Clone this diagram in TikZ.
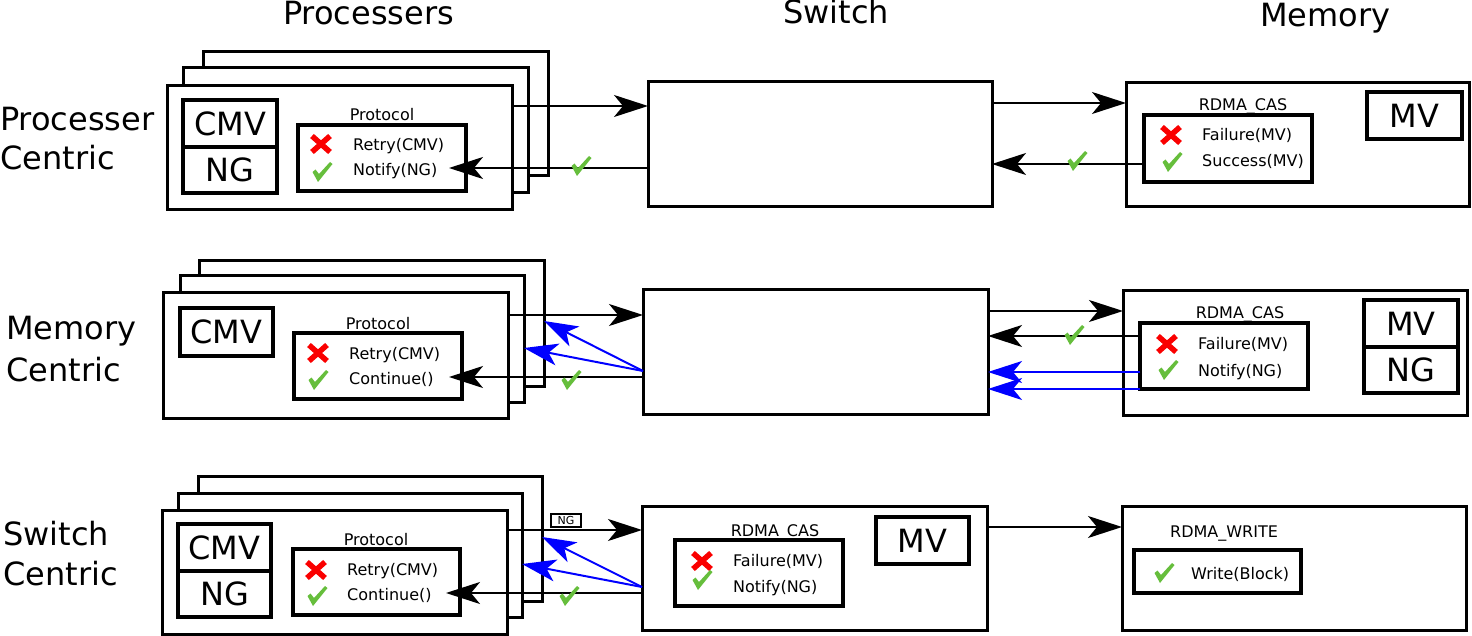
\documentclass[tikz,border=0pt]{standalone}
\usepackage{fontspec}
\setmainfont{DejaVu Sans}
\usetikzlibrary{arrows.meta}
\definecolor{okgreen}{RGB}{102,190,60}
\definecolor{badred}{RGB}{250,0,0}
\tikzset{
  frame/.style={draw, line width=3pt, fill=white, inner sep=0pt, outer sep=0pt, anchor=north west},
  inbox/.style={draw, line width=4.5pt, fill=white, inner sep=0pt, outer sep=0pt, anchor=north west},
  valbox/.style={draw, line width=4pt, fill=white, inner sep=0pt, outer sep=0pt, anchor=north west, font=\fontsize{32}{38}\selectfont},
  bigtxt/.style={font=\fontsize{32}{38}\selectfont, inner sep=0pt, anchor=base west},
  lbl/.style={font=\fontsize{16}{18}\selectfont, inner sep=0pt, anchor=base west},
  ttl/.style={font=\fontsize{16}{18}\selectfont, inner sep=0pt, anchor=base},
  conn/.style={line width=2pt, -{Stealth[length=34pt,width=22pt,inset=9pt]}},
  bconn/.style={conn, draw=blue, fill=blue},
  chk/.pic={\fill[okgreen] (-9.5,0) -- (-6.5,-2.5) -- (-3,2) -- (8,-10) -- (10.5,-8) -- (-4,10) -- cycle;},
  xmk/.pic={\draw[badred, line width=5.5pt] (-9,-8) -- (9,8) (-9,8) -- (9,-8);},
}
\begin{document}
\begin{tikzpicture}[x=1pt,y=-1pt]
\useasboundingbox (0,0) rectangle (1472,636);

% titles
\node[bigtxt] (tproc) at (283,25) {Processers};
\node[bigtxt] (tsw) at (783,24) {Switch};
\node[bigtxt] (tmem) at (1260,27) {Memory};

% row labels
\node[bigtxt] (r1a) at (0,131) {Processer};
\node[bigtxt] (r1b) at (0,170) {Centric};
\node[bigtxt] (r2a) at (6,339) {Memory};
\node[bigtxt] (r2b) at (6,381) {Centric};
\node[bigtxt] (r3a) at (3,545) {Switch};
\node[bigtxt] (r3b) at (3,585) {Centric};

% ================= ROW 1 =================
\node[frame, minimum width=345pt, minimum height=124pt] (b1back) at (203,52) {};
\node[frame, minimum width=345pt, minimum height=125pt] (b1mid) at (183,68) {};
\node[frame, minimum width=345pt, minimum height=124pt] (b1front) at (167,86) {};
\node[valbox, minimum width=94pt, minimum height=47pt] (cmv1) at (183,100) {CMV};
\node[valbox, minimum width=94pt, minimum height=46pt] (ng1) at (183,147) {NG};
\node[ttl] (pl1) at (382,121) {Protocol};
\node[inbox, minimum width=168pt, minimum height=66pt] (p1) at (298,125) {};
\pic at (321,144) {xmk};
\pic at (322,172) {chk};
\node[lbl] (p1a) at (353,151) {Retry(CMV)};
\node[lbl] (p1b) at (353,176) {Notify(NG)};

\node[frame, minimum width=344pt, minimum height=125pt] (sw1) at (648,82) {};

\node[frame, minimum width=343pt, minimum height=124pt] (mem1) at (1126,83) {};
\node[ttl] (cas1) at (1243,111) {RDMA\_CAS};
\node[inbox, minimum width=168pt, minimum height=67pt] (m1in) at (1144,115) {};
\pic at (1171,135) {xmk};
\pic at (1172,162) {chk};
\node[lbl] (m1a) at (1202,141) {Failure(MV)};
\node[lbl] (m1b) at (1202,167) {Success(MV)};
\node[valbox, minimum width=95pt, minimum height=47pt] (mv1) at (1367,92) {MV};

\draw[conn] (b1front.east |- 0,106) -- (sw1.west |- 0,106);
\draw[conn, shorten >=-17pt] (sw1.west |- 0,168) -- (p1.east |- 0,168);
\draw[conn] (sw1.east |- 0,103) -- (mem1.west |- 0,103);
\draw[conn] (m1in.west |- 0,164) -- (sw1.east |- 0,164);
\pic at (581,166) {chk};
\pic at (1077,161) {chk};

% ================= ROW 2 =================
\node[frame, minimum width=345pt, minimum height=125pt] (b2back) at (199,261) {};
\node[frame, minimum width=344pt, minimum height=126pt] (b2mid) at (180,276) {};
\node[frame, minimum width=345pt, minimum height=125pt] (b2front) at (163,293) {};
\node[valbox, minimum width=93pt, minimum height=48pt] (cmv2) at (180,308) {CMV};
\node[ttl] (pl2) at (378,329) {Protocol};
\node[inbox, minimum width=168pt, minimum height=66pt] (p2) at (294,333) {};
\pic at (318,353) {xmk};
\pic at (318,380) {chk};
\node[lbl] (p2a) at (349,359) {Retry(CMV)};
\node[lbl] (p2b) at (349,384) {Continue()};

\node[frame, minimum width=345pt, minimum height=124pt] (sw2) at (643,290) {};

\node[frame, minimum width=344pt, minimum height=124pt] (mem2) at (1123,291) {};
\node[ttl] (cas2) at (1240,319) {RDMA\_CAS};
\node[inbox, minimum width=168pt, minimum height=66pt] (m2in) at (1140,323) {};
\pic at (1167,344) {xmk};
\pic at (1168,370) {chk};
\node[lbl] (m2a) at (1198,349) {Failure(MV)};
\node[lbl] (m2b) at (1198,376) {Notify(NG)};
\node[valbox, minimum width=94pt, minimum height=47pt] (mv2) at (1364,300) {MV};
\node[valbox, minimum width=94pt, minimum height=46pt] (ng2) at (1364,347) {NG};

\draw[conn] (b2front.east |- 0,315) -- (sw2.west |- 0,315);
\draw[conn, shorten >=-13pt] (sw2.west |- 0,377) -- (p2.east |- 0,377);
\draw[bconn] (sw2.west |- 0,371) -- (b2back.east |- 0,321);
\draw[bconn] (sw2.west |- 0,371) -- (b2mid.east |- 0,348);
\draw[conn] (sw2.east |- 0,311) -- (mem2.west |- 0,311);
\draw[conn] (m2in.west |- 0,336) -- (sw2.east |- 0,336);
\draw[bconn] (m2in.west |- 0,372) -- (sw2.east |- 0,372);
\draw[bconn] (m2in.west |- 0,389) -- (sw2.east |- 0,389);
\pic at (571,380) {chk};
\pic at (1074,335) {chk};

% ================= ROW 3 =================
\node[frame, minimum width=344pt, minimum height=125pt] (b3back) at (198,476) {};
\node[frame, minimum width=344pt, minimum height=124pt] (b3mid) at (178,493) {};
\node[frame, minimum width=345pt, minimum height=124pt] (b3front) at (162,510) {};
\node[valbox, minimum width=93pt, minimum height=47pt] (cmv3) at (178,524) {CMV};
\node[valbox, minimum width=93pt, minimum height=46pt] (ng3) at (178,571) {NG};
\node[ttl] (pl3) at (376,545) {Protocol};
\node[inbox, minimum width=167pt, minimum height=66pt] (p3) at (293,549) {};
\pic at (316,570) {xmk};
\pic at (317,596) {chk};
\node[lbl] (p3a) at (347,575) {Retry(CMV)};
\node[lbl] (p3b) at (347,600) {Continue()};

\node[frame, minimum width=345pt, minimum height=124pt] (sw3) at (642,506) {};
\node[ttl] (cas3) at (775,536) {RDMA\_CAS};
\node[inbox, minimum width=168pt, minimum height=66pt] (s3in) at (675,540) {};
\pic at (702,561) {xmk};
\pic at (702,580) {chk};
\node[lbl] (s3a) at (733,566) {Failure(MV)};
\node[lbl] (s3b) at (733,592) {Notify(NG)};
\node[valbox, minimum width=93pt, minimum height=47pt] (mv3) at (876,517) {MV};

\node[frame, minimum width=344pt, minimum height=124pt] (mem3) at (1122,506) {};
\node[ttl] (wr3) at (1224,537) {RDMA\_WRITE};
\node[inbox, minimum width=167pt, minimum height=43pt] (w3in) at (1134,550) {};
\pic at (1164,573) {chk};
\node[lbl] (w3a) at (1191,579) {Write(Block)};

\node[draw, line width=1.3pt, fill=white, inner sep=0pt, minimum width=30pt, minimum height=13pt, font=\fontsize{11}{12}\selectfont] (ngtag) at (566,520.5) {NG};

\draw[conn] (b3front.east |- 0,530) -- (sw3.west |- 0,530);
\draw[conn, shorten >=-14pt] (sw3.west |- 0,593) -- (p3.east |- 0,593);
\draw[bconn] (sw3.west |- 0,587) -- (b3back.east |- 0,537);
\draw[bconn] (sw3.west |- 0,587) -- (b3mid.east |- 0,564);
\draw[conn] (sw3.east |- 0,527) -- (mem3.west |- 0,527);
\pic at (569,596) {chk};
\end{tikzpicture}
\end{document}
